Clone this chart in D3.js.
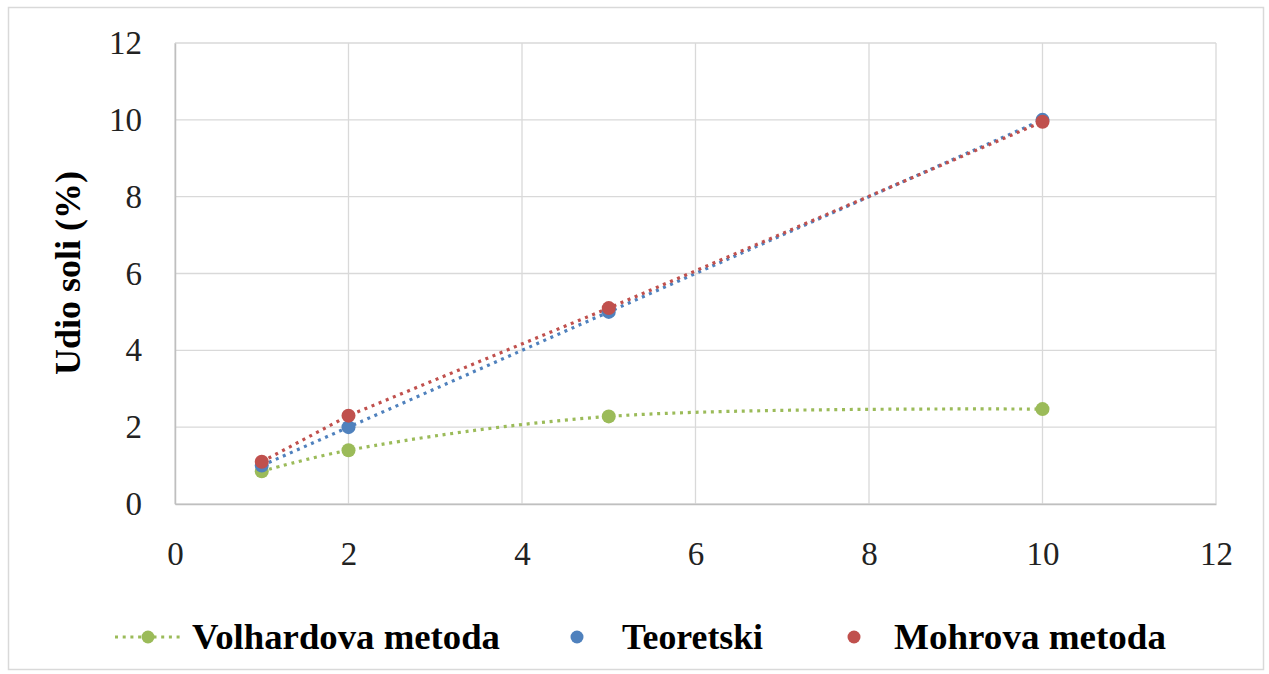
<!DOCTYPE html>
<html>
<head>
<meta charset="utf-8">
<script src="https://cdn.jsdelivr.net/npm/d3@7"></script>
<style>
  body { margin: 0; background: #fff; }
  text { font-family: "Liberation Serif", "Times New Roman", serif; }
</style>
</head>
<body>
<div id="chart"></div>
<script>
// podaci
var xValues = [1, 2, 5, 10];
var volhard = [0.85, 1.4, 2.28, 2.47];
var teoretski = [1, 2, 5, 10];
var mohr = [1.1, 2.3, 5.1, 9.95];
var xTicks = [0, 2, 4, 6, 8, 10, 12];
var yTicks = [0, 2, 4, 6, 8, 10, 12];
var seriesNames = ["Volhardova metoda", "Teoretski", "Mohrova metoda"];

var W = 1269, H = 674;
var pLeft = 175, pRight = 1216, pTop = 43, pBottom = 504;

var svg = d3.select("#chart").append("svg")
  .attr("width", W).attr("height", H);

// okvir
svg.append("rect")
  .attr("x", 8.5).attr("y", 7.5)
  .attr("width", 1255).attr("height", 662)
  .attr("fill", "#fff").attr("stroke", "#d9d9d9").attr("stroke-width", 1.5);

var x = d3.scaleLinear().domain([0, 12]).range([pLeft, pRight]);
var y = d3.scaleLinear().domain([0, 12]).range([pBottom, pTop]);

// mreza
svg.append("g").selectAll("line").data(xTicks).join("line")
  .attr("x1", d => x(d)).attr("x2", d => x(d))
  .attr("y1", pTop).attr("y2", pBottom)
  .attr("stroke", "#d9d9d9").attr("stroke-width", 1.3);
svg.append("g").selectAll("line").data(yTicks).join("line")
  .attr("x1", pLeft).attr("x2", pRight)
  .attr("y1", d => y(d)).attr("y2", d => y(d))
  .attr("stroke", "#d9d9d9").attr("stroke-width", 1.3);

// osi
var yAxis = svg.append("g")
  .attr("transform", `translate(${pLeft},0)`)
  .call(d3.axisLeft(y).tickValues(yTicks).tickSize(0).tickPadding(33));
yAxis.select(".domain").attr("stroke", "#bfbfbf").attr("stroke-width", 1.5);
yAxis.selectAll("text").attr("font-size", 33)
  .attr("font-family", "Liberation Serif").attr("fill", "#222");

var xAxis = svg.append("g")
  .attr("transform", `translate(0,${pBottom})`)
  .call(d3.axisBottom(x).tickValues(xTicks).tickSize(0).tickPadding(38));
xAxis.select(".domain").attr("stroke", "#bfbfbf").attr("stroke-width", 1.5);
xAxis.selectAll("text").attr("font-size", 33)
  .attr("font-family", "Liberation Serif").attr("fill", "#222");

// naslov y osi
svg.append("text")
  .attr("transform", "translate(80,273) rotate(-90)")
  .attr("text-anchor", "middle")
  .attr("font-size", 36).attr("font-weight", "bold")
  .text("Udio soli (%)");

var series = [
  {name: seriesNames[0], values: volhard, color: "#9bbb59", curve: d3.curveCatmullRom.alpha(0.5)},
  {name: seriesNames[1], values: teoretski, color: "#4f81bd", curve: d3.curveLinear},
  {name: seriesNames[2], values: mohr, color: "#c0504d", curve: d3.curveLinear}
];

var line = d3.line().x(d => x(d[0])).y(d => y(d[1]));

series.forEach(function(s) {
  var pts = xValues.map((v, i) => [v, s.values[i]]);
  svg.append("path")
    .attr("d", line.curve(s.curve)(pts))
    .attr("fill", "none").attr("stroke", s.color)
    .attr("stroke-width", 3.2).attr("stroke-dasharray", "3 4.7");
});
series.forEach(function(s) {
  var pts = xValues.map((v, i) => [v, s.values[i]]);
  svg.append("g").selectAll("circle").data(pts).join("circle")
    .attr("cx", d => x(d[0])).attr("cy", d => y(d[1]))
    .attr("r", 7).attr("fill", s.color);
});

// legenda
var ly = 637;
var leg = svg.append("g");
leg.append("line").attr("x1", 115).attr("x2", 180).attr("y1", ly).attr("y2", ly)
  .attr("stroke", series[0].color).attr("stroke-width", 3.2).attr("stroke-dasharray", "3 4.7");
leg.append("circle").attr("cx", 148).attr("cy", ly).attr("r", 6.5).attr("fill", series[0].color);
leg.append("circle").attr("cx", 577).attr("cy", ly).attr("r", 6.5).attr("fill", series[1].color);
leg.append("circle").attr("cx", 854).attr("cy", ly).attr("r", 6.5).attr("fill", series[2].color);
var legX = [192, 622, 894];
var legW = [308, 141, 272];
seriesNames.forEach(function(n, i) {
  leg.append("text")
    .attr("x", legX[i]).attr("y", ly + 12)
    .attr("font-size", 36).attr("font-weight", "bold")
    .attr("textLength", legW[i]).attr("lengthAdjust", "spacingAndGlyphs")
    .text(n);
});
</script>
</body>
</html>
